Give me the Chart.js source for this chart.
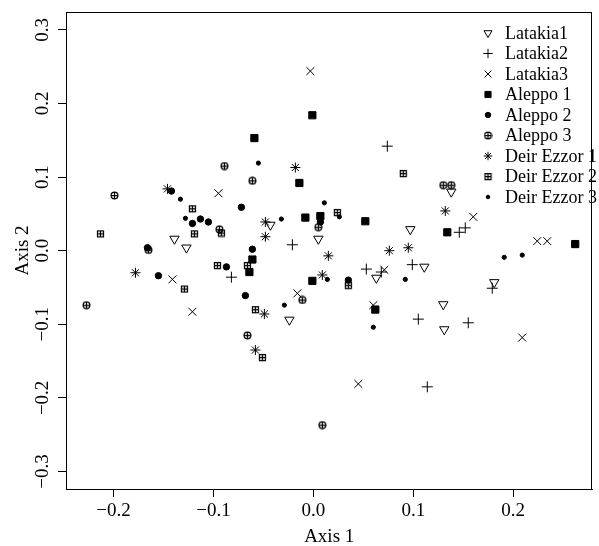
<!DOCTYPE html>
<html>
<head>
<meta charset="utf-8">
<script src="https://cdn.jsdelivr.net/npm/chart.js@4.4.1/dist/chart.umd.min.js"></script>
<style>
body { margin: 0; background: #fff; }
</style>
</head>
<body>
<canvas id="myChart" width="599" height="546"></canvas>
<script>
// Точки: [Axis 1, Axis 2]
let latakia1 = [[-0.139,0.016],[-0.127,0.004],[-0.043,0.035],[0.005,0.016],[-0.024,-0.094],[0.097,0.029],
    [0.063,-0.037],[0.111,-0.022],[0.138,0.080],[0.130,-0.073],[0.131,-0.107],[0.181,-0.043]];
let latakia2 = [[-0.021,0.008],[-0.082,-0.036],[0.074,0.142],[0.053,-0.025],[0.099,-0.019],[0.105,-0.093],
    [0.155,-0.098],[0.114,-0.185],[0.179,-0.051],[0.146,0.025],[0.152,0.031],[0.068,-0.029]];
let latakia3 = [[-0.003,0.244],[-0.095,0.078],[-0.141,-0.039],[-0.121,-0.083],[-0.016,-0.058],[0.045,-0.181],
    [0.060,-0.074],[0.071,-0.026],[0.209,-0.118],[0.160,0.046],[0.224,0.013],[0.234,0.013]];
let aleppo1 = [[-0.001,0.184],[-0.059,0.153],[-0.014,0.092],[-0.008,0.045],[0.007,0.047],[-0.061,-0.012],
    [-0.064,-0.029],[-0.001,-0.041],[0.052,0.040],[0.134,0.025],[0.262,0.009],[0.062,-0.080]];
let aleppo2 = [[-0.142,0.081],[-0.121,0.037],[-0.113,0.043],[-0.105,0.039],[-0.166,0.004],[-0.155,-0.034],
    [-0.072,0.059],[-0.061,0.002],[-0.087,-0.022],[-0.068,-0.061],[0.007,0.039],[0.035,-0.040]];
let aleppo3 = [[-0.199,0.075],[-0.227,-0.074],[-0.165,0.001],[-0.089,0.115],[-0.061,0.095],[-0.094,0.029],
    [0.005,0.032],[-0.011,-0.067],[-0.066,-0.115],[0.009,-0.237],[0.130,0.089],[0.138,0.089]];
let deirEzzor1 = [[-0.146,0.084],[-0.178,-0.030],[-0.018,0.113],[-0.048,0.039],[-0.048,0.019],[0.015,-0.007],
    [0.009,-0.033],[-0.049,-0.086],[-0.058,-0.135],[0.076,0.000],[0.095,0.004],[0.132,0.054]];
let deirEzzor2 = [[-0.213,0.023],[-0.121,0.057],[-0.119,0.023],[-0.129,-0.052],[-0.092,0.024],[-0.096,-0.020],
    [-0.066,-0.020],[-0.058,-0.080],[-0.051,-0.145],[0.090,0.105],[0.024,0.052],[0.035,-0.047]];
let deirEzzor3 = [[-0.055,0.119],[-0.133,0.070],[-0.128,0.044],[-0.032,0.043],[0.011,0.065],[0.014,-0.039],
    [-0.029,-0.074],[0.026,0.046],[0.092,-0.039],[0.060,-0.104],[0.191,-0.009],[0.209,-0.006]];

let names = ['Latakia1', 'Latakia2', 'Latakia3', 'Aleppo 1', 'Aleppo 2', 'Aleppo 3',
    'Deir Ezzor 1', 'Deir Ezzor 2', 'Deir Ezzor 3'];
let xTicks = [-0.2, -0.1, 0, 0.1, 0.2];
let yTicks = [-0.3, -0.2, -0.1, 0, 0.1, 0.2, 0.3];

// значки "круг с крестом" и "квадрат с крестом"
function makeMark(kind){
    let c = document.createElement('canvas');
    c.width = 9; c.height = 9;
    let g = c.getContext('2d');
    g.strokeStyle = '#000';
    g.lineWidth = 1.25;
    g.beginPath();
    if(kind == 'circle'){
        g.arc(4.5, 4.5, 3.4, 0, Math.PI*2);
    } else{
        g.rect(1.5, 1.5, 6, 6);
    }
    g.moveTo(4.5, 1); g.lineTo(4.5, 8);
    g.moveTo(1, 4.5); g.lineTo(8, 4.5);
    g.stroke();
    return c;
}

let styles = [
    {pointStyle: 'triangle', rotation: 180, radius: 5.4, fill: 'rgba(0,0,0,0)'},
    {pointStyle: 'cross', rotation: 0, radius: 5.5, fill: '#000'},
    {pointStyle: 'crossRot', rotation: 0, radius: 5.6, fill: '#000'},
    {pointStyle: 'rect', rotation: 0, radius: 5.1, fill: '#000'},
    {pointStyle: 'circle', rotation: 0, radius: 3.2, fill: '#000'},
    {pointStyle: makeMark('circle'), rotation: 0, radius: 4, fill: '#000'},
    {pointStyle: 'star', rotation: 0, radius: 5, fill: '#000'},
    {pointStyle: makeMark('square'), rotation: 0, radius: 4, fill: '#000'},
    {pointStyle: 'circle', rotation: 0, radius: 2.1, fill: '#000'}
];

let series = [latakia1, latakia2, latakia3, aleppo1, aleppo2, aleppo3, deirEzzor1, deirEzzor2, deirEzzor3];

let datasets = series.map((s, i) => ({
    label: names[i],
    data: s.map(p => ({x: p[0], y: p[1]})),
    pointStyle: styles[i].pointStyle,
    pointRotation: styles[i].rotation,
    pointRadius: styles[i].radius,
    pointBackgroundColor: styles[i].fill,
    pointBorderColor: '#000',
    pointBorderWidth: 1
}));

function fmt(v){
    if(Math.abs(v) < 1e-9) return '0.0';
    return v.toFixed(1).replace('-', '\u2212');
}

let serif = '"Liberation Serif", "DejaVu Serif", serif';

// рамка вокруг области графика
let frame = {
    id: 'frame',
    afterDraw(chart){
        let a = chart.chartArea;
        let ctx = chart.ctx;
        ctx.save();
        ctx.strokeStyle = '#000';
        ctx.lineWidth = 1;
        ctx.strokeRect(Math.round(a.left) + 0.5, Math.round(a.top) + 0.5,
            Math.round(a.right - a.left) - 1, Math.round(a.bottom - a.top));
        ctx.restore();
    }
};

// легенда внутри графика
let legendBox = {
    id: 'legendBox',
    afterDraw(chart){
        let ctx = chart.ctx;
        ctx.save();
        ctx.font = '18px ' + serif;
        ctx.textBaseline = 'middle';
        ctx.fillStyle = '#000';
        chart.data.datasets.forEach((ds, i) => {
            let y = 33 + i * 20.5;
            ctx.strokeStyle = '#000';
            ctx.lineWidth = 1;
            ctx.fillStyle = styles[i].fill;
            Chart.helpers.drawPoint(ctx, {
                pointStyle: styles[i].pointStyle,
                rotation: styles[i].rotation,
                radius: styles[i].radius * 0.85,
                borderWidth: 1
            }, 488, y);
            ctx.fillStyle = '#000';
            ctx.fillText(ds.label, 505, y + 1);
        });
        ctx.restore();
    }
};

let ctx = document.getElementById('myChart').getContext('2d');
let chart = new Chart(ctx, {
    type: 'scatter',
    data: {datasets: datasets},
    options: {
        responsive: false,
        animation: false,
        events: [],
        layout: {padding: {top: 12, right: 1, left: 0, bottom: 0}},
        plugins: {legend: {display: false}, tooltip: {enabled: false}},
        scales: {
            x: {
                type: 'linear',
                min: -0.2475,
                max: 0.2792,
                afterBuildTicks: s => { s.ticks = xTicks.map(v => ({value: v})); },
                afterFit: s => { s.height = 57; },
                grid: {drawOnChartArea: false, drawTicks: true, tickLength: 8, color: '#000'},
                border: {display: true, color: '#000'},
                ticks: {
                    color: '#000',
                    font: {family: serif, size: 19},
                    padding: 3,
                    maxRotation: 0,
                    callback: v => fmt(v)
                },
                title: {
                    display: true, text: 'Axis 1', color: '#000',
                    font: {family: serif, size: 19, lineHeight: 1},
                    padding: {top: 0, bottom: -1}
                }
            },
            y: {
                type: 'linear',
                min: -0.3238,
                max: 0.3243,
                afterBuildTicks: s => { s.ticks = yTicks.map(v => ({value: v})); },
                afterFit: s => { s.width = 66; },
                grid: {drawOnChartArea: false, drawTicks: true, tickLength: 8, color: '#000'},
                border: {display: true, color: '#000'},
                ticks: {
                    color: '#000',
                    font: {family: serif, size: 19},
                    padding: -2,
                    minRotation: 90,
                    maxRotation: 90,
                    crossAlign: 'center',
                    callback: v => fmt(v)
                },
                title: {
                    display: true, text: 'Axis 2', color: '#000',
                    font: {family: serif, size: 19, lineHeight: 1},
                    padding: {top: 14, bottom: 0}
                }
            }
        }
    },
    plugins: [frame, legendBox]
});
</script>
</body>
</html>
